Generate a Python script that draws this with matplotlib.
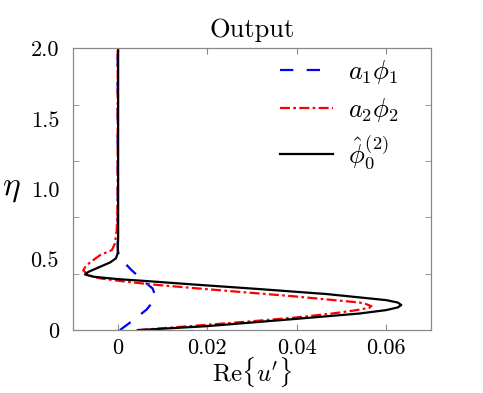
import numpy as np
import matplotlib
matplotlib.use('Agg')
import matplotlib.pyplot as plt

plt.rcParams['font.family'] = 'serif'
plt.rcParams['font.serif'] = ['cmr10']
plt.rcParams['mathtext.fontset'] = 'cm'
plt.rcParams['axes.formatter.use_mathtext'] = True

# perfiles (Re{u'}, eta)
phi1_x = [0.0005, 0.0035, 0.0065, 0.0081, 0.0084, 0.0078, 0.0057, 0.0031, 0.0013, 0.0003, 0.0001, 0.0, 0.0]
phi1_eta = [0.0, 0.071, 0.147, 0.21, 0.245, 0.296, 0.35, 0.426, 0.485, 0.532, 0.556, 0.6, 2.0]

phi2_x = [0.0045, 0.012, 0.020, 0.030, 0.040, 0.048, 0.053, 0.0562, 0.0567, 0.0555, 0.054, 0.047, 0.039,
          0.0243, 0.0094, 0.002, -0.0039, -0.0065, -0.0077, -0.0072, -0.0062, -0.0039, -0.0013,
          -0.0006, -0.0002, 0.0, 0.0]
phi2_eta = [0.0, 0.018, 0.038, 0.063, 0.09, 0.118, 0.14, 0.158, 0.170, 0.185, 0.196, 0.217, 0.241,
            0.279, 0.319, 0.343, 0.367, 0.39, 0.424, 0.45, 0.48, 0.533, 0.568,
            0.615, 0.71, 0.95, 2.0]

phi0_x = [0.0045, 0.0199, 0.0392, 0.0541, 0.060, 0.0626, 0.0634, 0.0626, 0.060, 0.0467, 0.0318,
          0.0169, 0.0057, 0.0, -0.0054, -0.0073, -0.0065, -0.0039, -0.0017, -0.0004, 0.0, 0.0001, 0.0001]
phi0_eta = [0.0, 0.028, 0.078, 0.118, 0.142, 0.161, 0.178, 0.196, 0.213, 0.256, 0.291,
            0.324, 0.350, 0.362, 0.379, 0.395, 0.414, 0.45, 0.48, 0.509, 0.544, 0.65, 2.0]

etiquetas = [r'$a_1\phi_1$', r'$a_2\phi_2$', r'$\hat{\phi}_0^{(2)}$']

xticks = [0, 0.02, 0.04, 0.06]
xticklabels = ['0', '0.02', '0.04', '0.06']
yticks_marcas = [0.4, 0.8, 1.2, 1.6]
ylabel_pos = [0, 0.5, 1.0, 1.5, 2.0]
ylabel_txt = ['0', '0.5', '1.0', '1.5', '2.0']

fig = plt.figure(figsize=(4.83, 3.93), dpi=100)
ax = fig.add_axes([0.151, 0.160, 0.741, 0.717])

ax.plot(phi1_x, phi1_eta, color='blue', linestyle=(0, (6, 6)), linewidth=1.6, label=etiquetas[0])
ax.plot(phi2_x, phi2_eta, color='red', linestyle=(0, (4.5, 1.5, 1.2, 1.5)), linewidth=1.6, label=etiquetas[1])
ax.plot(phi0_x, phi0_eta, color='black', linestyle='-', linewidth=1.6, label=etiquetas[2])

ax.set_xlim(-0.01, 0.07)
ax.set_ylim(0, 2.0)

ax.set_xticks(xticks)
ax.set_xticklabels(xticklabels, fontsize=16)
# etiquetas del eje y en 0.5, marcas cada 0.4
ax.set_yticks(ylabel_pos)
ax.set_yticklabels(ylabel_txt, fontsize=16)
ax.set_yticks(yticks_marcas, minor=True)
ax.tick_params(axis='x', which='major', direction='in', top=True, length=4, color='#888888', pad=6)
ax.tick_params(axis='y', which='major', length=0, pad=10)
ax.tick_params(axis='y', which='minor', direction='in', left=True, right=True, length=4, color='#888888')
for s in ax.spines.values():
    s.set_color('#888888')
    s.set_linewidth(0.9)

ax.set_title('Output', fontsize=19, pad=8)
ax.set_xlabel(r"$\mathrm{Re}\{u'\}$", fontsize=18, labelpad=-2)
ax.set_ylabel(r'$\eta$', fontsize=24, rotation=0, labelpad=14, va='center')

ax.legend(loc='upper left', frameon=False, fontsize=19, handlelength=2.0,
          bbox_to_anchor=(0.578, 0.965), borderaxespad=0, borderpad=0,
          labelspacing=0.38, handletextpad=0.6)

fig.savefig('out.png', dpi=100)
